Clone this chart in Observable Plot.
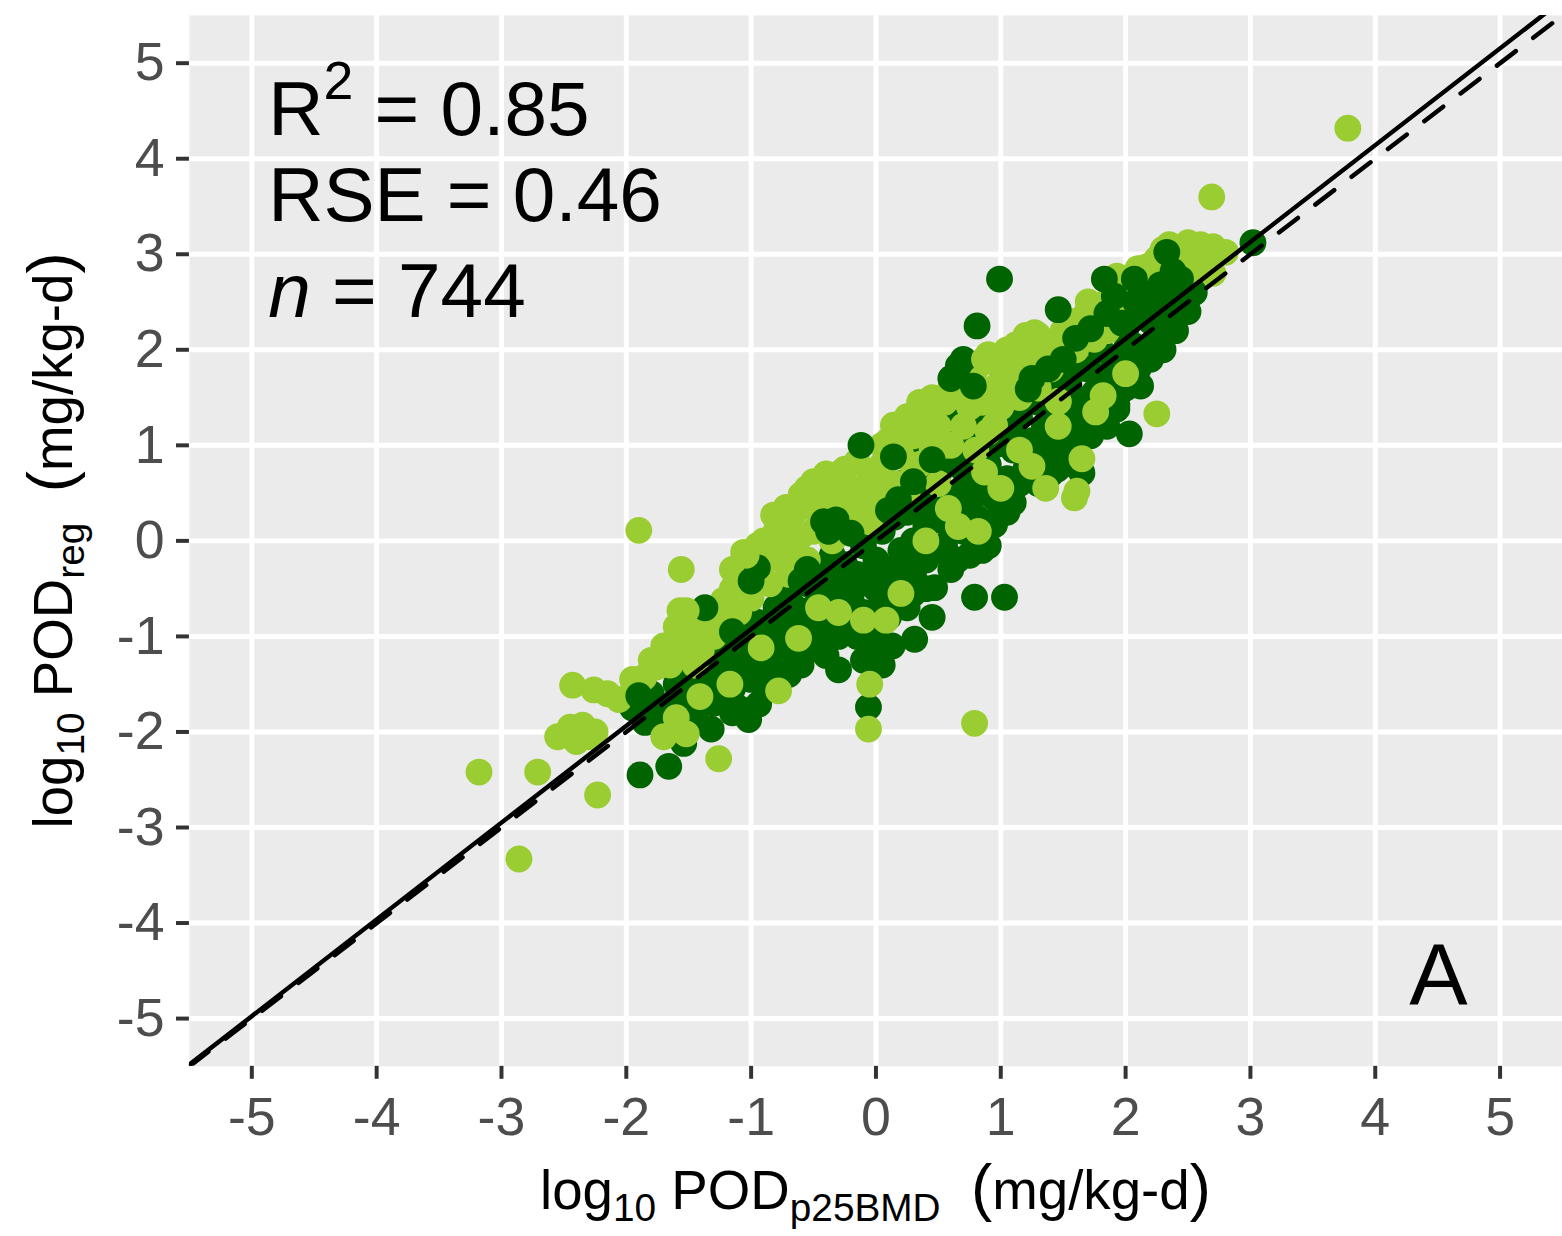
<!DOCTYPE html>
<html><head><meta charset="utf-8">
<script src="https://cdn.jsdelivr.net/npm/d3@7"></script>
<script src="https://cdn.jsdelivr.net/npm/@observablehq/plot@0.6"></script>
<style>html,body{margin:0;padding:0;background:#fff;overflow:hidden;} svg{display:block}</style>
</head><body><div id="chart"></div>
<script>
// ---- data ----
const xTicks = [-5,-4,-3,-2,-1,0,1,2,3,4,5];
const xTickLabels = ["-5","-4","-3","-2","-1","0","1","2","3","4","5"];
const yTicks = [-5,-4,-3,-2,-1,0,1,2,3,4,5];
const yTickLabels = ["-5","-4","-3","-2","-1","0","1","2","3","4","5"];
const fitIntercept = 0.09, fitSlope = 1.013;     // solid regression line
const refIntercept = 0, refSlope = 1;             // dashed 1:1 line
const stats = {r2: "0.85", rse: "0.46", n: "744"};
const panelLabel = "A";

const darkBase = [
[-1.95,-1.75],[-1.9,-1.6],[-1.85,-1.9],[-1.8,-1.6],[-1.75,-1.8],[-1.7,-1.75],[-1.65,-1.95],[-1.6,-1.5],[-1.6,-1.7],[-1.55,-1.7],[-1.5,-1.45],[-1.45,-1.65],[-1.45,-1.85],
[-1.4,-1.3],[-1.35,-1.5],[-1.3,-1.2],[-1.3,-1.7],[-1.25,-1.4],[-1.2,-1.1],[-1.15,-1.55],[-1.1,-1.3],[-1.1,-1.75],[-1.05,-1.0],[-1.0,-1.45],[-1.0,-1.2],[-0.94,-1.71],[-0.88,-1.53],
[-1.55,-1.3],[-1.4,-1.6],[-1.2,-1.35],[-1.15,-1.8],
[-0.95,-0.85],[-0.9,-1.05],[-0.85,-1.3],[-0.8,-0.7],[-0.78,-0.87],[-0.78,-1.39],[-0.75,-1.1],[-0.7,-0.55],[-0.7,-0.95],[-0.65,-1.2],[-0.6,-0.8],[-0.6,-1.3],[-0.56,-0.91],[-0.55,-0.45],[-0.5,-1.05],[-0.5,-0.7],[-0.98,-0.33],[-1.02,-0.31],[-0.64,-1.1],
[-0.9,-1.25],[-0.85,-0.95],[-0.7,-1.4],[-0.65,-0.7],[-0.55,-1.15],[-0.45,-1.05],
[-0.45,-0.3],[-0.45,-0.85],[-0.4,-1.2],[-0.4,-0.55],[-0.35,-0.15],[-0.35,-0.7],[-0.3,-1.0],[-0.3,-0.4],[-0.25,-0.25],[-0.2,-0.6],[-0.2,-0.9],[-0.15,-0.35],[-0.1,-0.05],[-0.1,-0.75],[-0.05,-0.45],[-0.05,-1.1],[0,-0.2],[0.05,-0.6],[0.05,-1.3],[0,-1.25],[-0.3,-1.35],[0.13,-1.1],
[-0.4,-0.9],[-0.25,-0.75],[-0.15,-1.0],[-0.1,-1.25],[0.0,-0.9],[0.0,-0.5],
[0.05,0.1],[0.1,-0.3],[0.15,0.25],[0.15,-0.5],[0.2,-0.1],[0.25,-0.7],[0.25,0.3],[0.3,0.0],[0.3,-0.35],[0.35,0.55],[0.35,-0.2],[0.4,0.15],[0.4,-0.5],[0.45,0.4],[0.47,-0.49],[0.5,-0.1],[0.5,0.7],[0.45,-0.8],
[0.1,-0.8],[0.2,-0.35],[0.25,-0.1],[0.3,-0.55],[0.35,0.3],[0.4,-0.2],[0.2,0.6],[0.3,0.85],
[0.55,0.2],[0.6,0.9],[0.6,-0.3],[0.65,0.5],[0.7,0.1],[0.7,0.75],[0.75,0.35],[0.75,-0.15],[0.8,1.0],[0.8,0.55],[0.85,0.2],[0.9,0.8],[0.9,-0.05],[0.95,0.45],[1.0,1.1],[1.0,0.3],[0.85,1.35],[0.72,1.5],[0.6,1.25],
[0.55,-0.05],[0.6,0.3],[0.65,-0.2],[0.7,0.5],[0.8,0.25],[0.85,-0.1],[0.9,0.5],[0.95,1.0],[0.65,1.1],[0.9,1.3],[0.75,1.15],
[1.05,0.65],[1.1,0.95],[1.1,0.4],[1.15,1.3],[1.2,0.75],[1.25,1.05],[1.3,1.45],[1.3,0.85],[1.35,1.2],[1.4,0.7],[1.4,1.6],[1.45,1.0],[1.5,1.35],[1.5,0.8],[1.46,0.83],
[1.05,0.3],[1.1,1.2],[1.15,0.6],[1.2,1.45],[1.3,0.6],[1.35,1.0],[1.4,1.35],[1.45,0.75],[1.5,1.6],[1.5,1.1],
[1.55,1.7],[1.55,1.1],[1.6,1.5],[1.65,1.25],[1.7,1.8],[1.72,1.1],[1.75,1.55],[1.8,1.3],[1.8,2.0],[1.85,1.7],[1.9,1.45],[1.93,1.38],[1.95,1.9],[2.0,1.6],[2.0,2.2],[1.93,1.42],
[1.6,1.0],[1.6,1.8],[1.7,1.4],[1.8,1.6],[1.85,1.2],[1.9,1.8],[1.95,1.55],[2.0,2.0],
[2.05,1.8],[2.07,2.04],[2.1,2.4],[2.12,1.62],[2.15,2.0],[2.2,2.3],[2.25,2.1],[2.28,2.22],[2.3,2.5],[2.35,2.35],[2.41,2.46],[2.45,2.55],[2.5,2.65],
[2.1,1.8],[2.2,1.9],[2.3,2.0],[2.35,2.6],[2.4,2.2],[2.5,2.4],[2.55,2.6]
];

const lightBase = [
[-2.06,-1.66],[-1.95,-1.45],[-1.86,-1.43],[-1.8,-1.25],[-1.76,-1.32],[-1.7,-1.1],[-1.65,-1.3],[-1.6,-0.9],[-1.55,-1.15],[-1.57,-0.73],[-2.26,-1.56],[-2.43,-1.51],[-2.15,-1.6],
[-2.55,-2.05],[-2.45,-1.95],[-2.35,-1.93],[-2.25,-2.0],[-2.4,-2.1],[-2.3,-2.05],[-1.6,-1.85],
[-1.45,-0.95],[-1.4,-1.15],[-1.35,-0.8],[-1.3,-1.0],[-1.25,-0.7],[-1.22,-0.62],[-1.2,-0.9],[-1.15,-0.5],[-1.1,-0.75],[-1.06,-0.12],[-1.05,-0.4],[-1.0,-0.6],[-1.45,-1.3],
[-1.15,-0.3],[-1.0,-0.35],[-0.95,-0.05],[-0.88,-0.2],[-0.8,-0.1],[-0.72,0.35],[-0.68,-0.1],
[-0.95,-0.3],[-0.9,0.0],[-0.85,-0.45],[-0.82,0.27],[-0.8,0.1],[-0.75,-0.2],[-0.7,0.15],[-0.7,-0.35],[-0.65,0.3],[-0.6,0.48],[-0.6,0.05],[-0.55,-0.2],[-0.5,0.35],[-0.5,0.1],
[-0.55,0.55],[-0.5,0.62],[-0.4,0.7],[-0.35,0.55],[-0.25,0.75],[-0.3,0.55],[-0.2,0.35],
[-0.45,0.6],[-0.45,0.2],[-0.4,0.45],[-0.35,0.0],[-0.3,0.7],[-0.3,0.35],[-0.25,0.15],[-0.2,0.55],[-0.15,0.83],[-0.1,0.4],[-0.05,0.65],[-0.05,0.2],[0.0,0.5],
[0.05,0.8],[0.1,1.05],[0.14,1.21],[0.15,0.6],[0.2,0.9],[0.25,0.5],[0.3,1.1],[0.35,0.8],[0.4,1.3],[0.42,1.16],[0.45,0.95],[0.5,1.2],[0.5,0.6],
[0.05,1.0],[0.2,1.15],[0.25,1.3],[0.3,0.75],[0.35,1.45],[0.45,1.5],[0.55,1.0],[0.6,1.6],
[0.55,1.45],[0.6,1.0],[0.65,1.6],[0.7,1.2],[0.75,1.65],[0.8,0.95],[0.87,1.88],[0.85,1.45],[0.9,1.14],[0.95,1.21],[0.95,1.6],[1.0,1.4],
[0.7,1.75],[0.75,1.4],[0.8,1.8],[0.9,1.95],[1.0,1.8],[1.05,2.0],[1.1,1.6],[1.15,2.05],[1.2,2.15],
[1.05,1.7],[1.1,2.0],[1.15,1.5],[1.2,1.85],[1.27,2.18],[1.3,1.6],[1.35,2.05],[1.4,1.8],[1.46,1.94],[1.46,1.46],[1.5,2.2],
[1.3,2.0],[1.4,2.05],[1.55,2.2],[1.65,2.3],[1.75,2.35],[1.85,2.5],[1.95,2.6],[2.05,2.75],[2.15,2.8],[2.25,2.95],
[1.55,2.3],[1.6,2.0],[1.67,2.35],[1.7,2.5],[1.75,2.11],[1.8,2.4],[1.85,2.2],[1.93,2.77],[1.95,2.5],[2.0,2.75],
[2.05,2.6],[2.1,2.85],[2.17,2.87],[2.2,2.65],[2.3,3.05],[2.35,3.1],[2.5,3.12],[2.6,3.1],[2.7,3.08],[2.8,3.02],[2.4,2.9],[2.5,2.8],[2.6,2.9],[2.7,2.8],[2.45,3.0],[2.55,2.95],
[2.69,3.60],[3.78,4.32],
[-3.18,-2.42],[-2.71,-2.42],[-2.86,-3.33],[-2.23,-2.66],[-1.90,0.11],[-1.56,-0.30],[0.79,-1.91]
];

const darkTop = [
[-1.37,-0.70],[-1.9,-1.62],[-1.89,-2.45],[-1.66,-2.36],[-1.54,-2.12],[-1.32,-1.97],[-1.02,-1.87],[-0.42,0.2],[-0.38,0.1],[-0.12,1.0],[0.14,0.88],[0.18,0.43],
[0.66,1.83],[0.81,2.25],[0.99,2.74],[1.46,2.42],[1.83,2.74],[1.91,2.56],[2.07,2.74],[2.33,3.02],[2.44,2.74],[2.44,2.46],[3.02,3.12],[2.03,1.12],[1.22,1.59],
[0.95,0.17],[0.79,-0.59],[1.03,-0.59],[0.31,-1.03],[-0.06,-1.74],[1.65,0.71],
[0.6,1.7],[0.7,1.9],[0.78,1.62],[1.25,1.7],[1.38,1.8],[1.5,1.9],[1.6,2.12],[1.72,2.22],[1.85,2.38],[1.97,2.28],[2.08,2.5],[2.18,2.58],[2.28,2.68],[2.38,2.82],
[-0.32,0.22],[-0.55,-0.3],[-0.6,-0.42],[-1.0,-0.42],[-0.95,-0.28],[-1.15,-0.95],[0.3,0.62],[0.45,0.85],[0.1,0.32],[-0.2,0.08]
];

const lightTop = [
[0.58,0.34],[0.82,0.10],[-0.1,-0.83],[0.08,-0.83],[1.61,0.52],[1.65,0.86],[1.59,0.45],[1.76,1.35],[2.25,1.33],[-0.78,-1.57],[-0.05,-1.5],[-0.06,-1.97],
[-1.41,-1.63],[-1.7,-2.05],[-1.52,-2.02],[-1.26,-2.28],[-0.46,-0.7],[1.25,0.78],[-1.52,-0.73],[-1.04,-0.15],
[0.4,0.0],[0.66,0.15],[1.0,0.55],[1.15,0.95],[1.36,0.55],[1.46,1.2],[1.82,1.52],[2.0,1.75],[0.2,-0.55],[-0.3,-0.75],[-0.62,-1.02],[-0.92,-1.12],[-1.17,-1.5],
[0.87,0.72],[0.95,1.45],[1.46,1.46],[1.12,2.05],[1.3,2.15],[0.87,1.9]
];

// ---- styles ----
const DARK = "#006400", LIGHT = "#9ACD32";
const FONT = '"Liberation Sans", Arial, Helvetica, sans-serif';
const R = 13.5;
const dots = (arr, fill) => Plot.dot(arr, {x: d => d[0], y: d => d[1], r: R, fill, stroke: null});
const xEnds = [-5.5, 5.5];

const chart = Plot.plot({
  width: 1571, height: 1236,
  marginLeft: 190, marginRight: 0, marginTop: 15, marginBottom: 164,
  style: {fontFamily: FONT, background: "#ffffff", overflow: "visible"},
  x: {domain: [-5.5, 5.5]},
  y: {domain: [-5.5, 5.5]},
  marks: [
    Plot.frame({fill: "#EBEBEB", stroke: null}),
    Plot.gridX(xTicks, {stroke: "#ffffff", strokeOpacity: 1, strokeWidth: 5}),
    Plot.gridY(yTicks, {stroke: "#ffffff", strokeOpacity: 1, strokeWidth: 5}),
    Plot.axisX(xTicks, {anchor: "bottom", label: null, tickSize: 13, tickPadding: 18, strokeWidth: 4, stroke: "#333333", fill: "#4D4D4D", fontSize: 54,
      tickFormat: d => xTickLabels[xTicks.indexOf(d)]}),
    Plot.axisY(yTicks, {anchor: "left", label: null, tickSize: 13, tickPadding: 12, strokeWidth: 4, stroke: "#333333", fill: "#4D4D4D", fontSize: 54,
      tickFormat: d => yTickLabels[yTicks.indexOf(d)]}),
    dots(darkBase, DARK),
    dots(lightBase, LIGHT),
    dots(darkTop, DARK),
    dots(lightTop, LIGHT),
    Plot.line(xEnds, {x: d => d, y: d => fitIntercept + fitSlope * d, stroke: "#000", strokeWidth: 4.5, clip: true}),
    Plot.line(xEnds, {x: d => d, y: d => refIntercept + refSlope * d, stroke: "#000", strokeWidth: 4.5, strokeDasharray: "24,22", clip: true})
  ]
});
document.getElementById("chart").appendChild(chart);

// ---- rich text (sub/superscripts) positioned through the plot's scales ----
const sxo = chart.scale("x"), syo = chart.scale("y");
const sx = d3.scaleLinear(sxo.domain, sxo.range), sy = d3.scaleLinear(syo.domain, syo.range);
const svg = d3.select(chart);
const g = svg.append("g").attr("font-family", FONT).attr("fill", "#000").attr("text-anchor", "start");

// stats annotation
const ax = sx(-4.865);
const l1 = g.append("text").attr("x", ax).attr("y", sy(4.245)).attr("font-size", 77);
l1.append("tspan").text("R");
l1.append("tspan").attr("font-size", 54).attr("dy", -36).text("2");
l1.append("tspan").attr("dy", 36).text(" = " + stats.r2);
g.append("text").attr("x", ax).attr("y", sy(3.34)).attr("font-size", 77).text("RSE = " + stats.rse);
const l3 = g.append("text").attr("x", ax).attr("y", sy(2.34)).attr("font-size", 77);
l3.append("tspan").attr("font-style", "italic").text("n");
l3.append("tspan").text(" = " + stats.n);

// panel label
g.append("text").attr("x", sx(4.51)).attr("y", sy(-4.86)).attr("font-size", 88).attr("text-anchor", "middle").text(panelLabel);

// axis titles
function title(sel, sub) {
  sel.append("tspan").text("log");
  sel.append("tspan").attr("font-size", 39).attr("dy", 12).text("10");
  sel.append("tspan").attr("dy", -12).text(" POD");
  sel.append("tspan").attr("font-size", 39).attr("dy", 12).text(sub);
  sel.append("tspan").attr("dy", -12).text("\u00a0\u00a0");
  sel.append("tspan").attr("font-size", 64).text("(");
  sel.append("tspan").text("mg/kg-d");
  sel.append("tspan").attr("font-size", 64).text(")");
}
const xt = g.append("text").attr("x", (sx(-5.5) + sx(5.5)) / 2).attr("y", 1216).attr("font-size", 55).attr("text-anchor", "middle");
title(xt, "p25BMD");
const yt = g.append("text").attr("transform", `translate(72,${(sy(-5.5) + sy(5.5)) / 2}) rotate(-90)`).attr("font-size", 55).attr("text-anchor", "middle");
title(yt, "reg");
</script></body></html>
